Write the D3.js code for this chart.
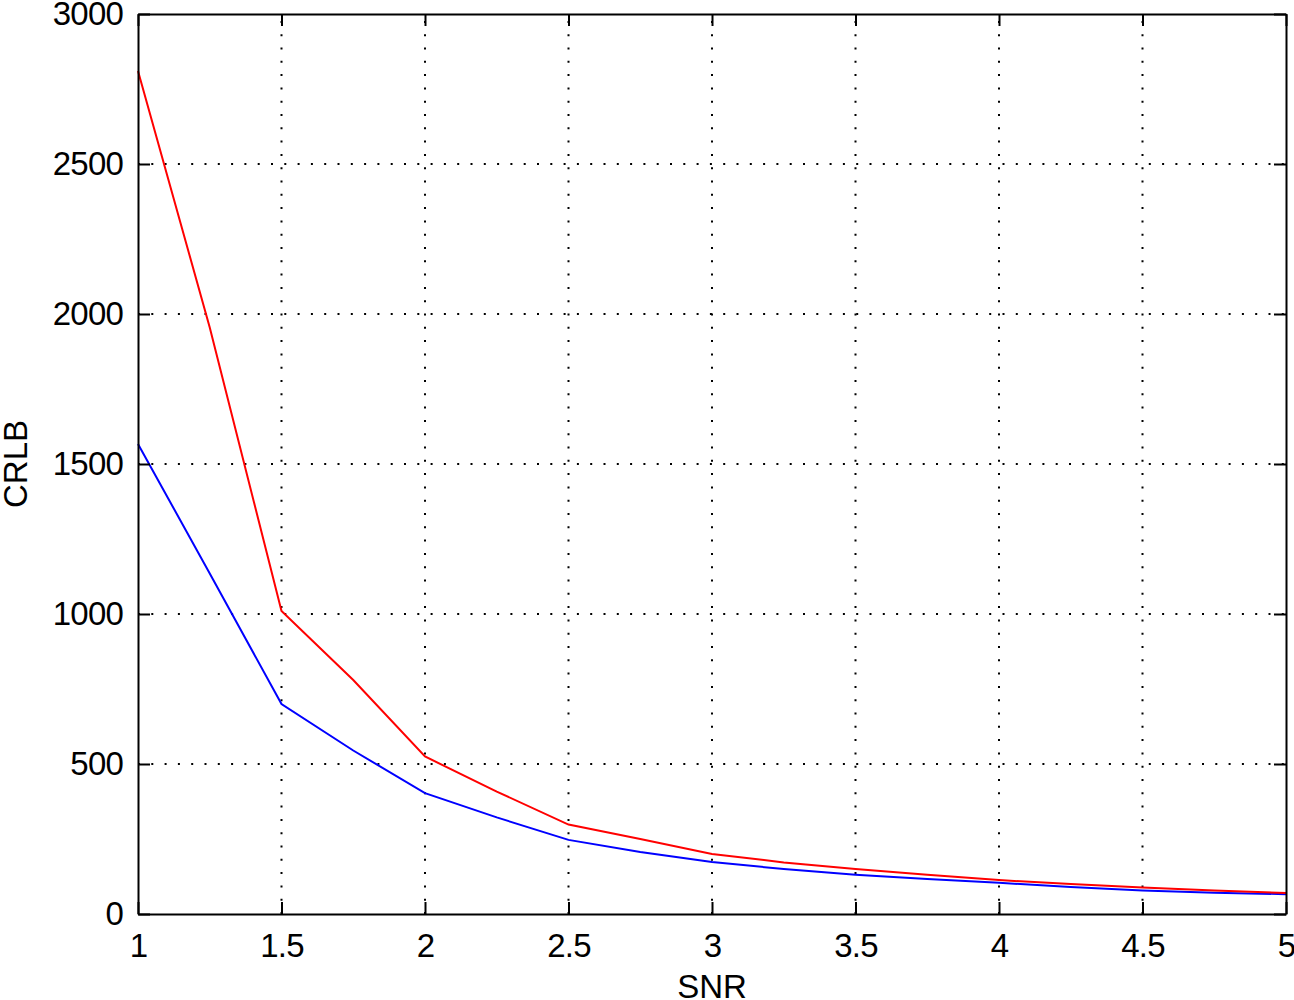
<!DOCTYPE html>
<html><head><meta charset="utf-8">
<script src="https://cdn.jsdelivr.net/npm/d3@7"></script>
<style>body{margin:0;background:#fff}svg{display:block}</style>
</head><body><svg id="c" width="1294" height="1000"></svg>
<script>
const snr = [1,1.25,1.5,1.75,2,2.25,2.5,2.75,3,3.25,3.5,3.75,4,4.25,4.5,4.75,5];
const crlbRed  = [2810,1955,1010,780,525,408,298,250,200,172,150,131,113,100,88,78,70];
const crlbBlue = [1567,1135,700,545,403,322,247,207,173,150,131,117,104,90,78,71,66];
const xTicks = [1,1.5,2,2.5,3,3.5,4,4.5,5];
const xTickLabels = ["1","1.5","2","2.5","3","3.5","4","4.5","5"];
const yTicks = [0,500,1000,1500,2000,2500,3000];
const yTickLabels = ["0","500","1000","1500","2000","2500","3000"];

const L=138,R=1286,T=14,B=914;
const svg=d3.select("#c");
const x=d3.scaleLinear().domain([1,5]).range([L,R]);
const y=d3.scaleLinear().domain([0,3000]).range([B,T]);
const font="'Liberation Sans', Arial, sans-serif";

// grid
const g=svg.append("g");
g.selectAll("line.vx").data(xTicks.slice(1,-1)).enter().append("line")
 .attr("x1",d=>x(d)).attr("x2",d=>x(d)).attr("y1",B).attr("y2",T)
 .attr("stroke","#000").attr("stroke-width",2).attr("stroke-dasharray","2,11.3");
g.selectAll("line.hy").data(yTicks.slice(1,-1)).enter().append("line")
 .attr("x1",L).attr("x2",R).attr("y1",d=>y(d)).attr("y2",d=>y(d))
 .attr("stroke","#000").attr("stroke-width",2).attr("stroke-dasharray","2,11.3");

// lines
const line=d3.line().x((d,i)=>x(snr[i])).y(d=>y(d));
svg.append("path").datum(crlbBlue).attr("d",line).attr("fill","none").attr("stroke","#0000ff").attr("stroke-width",2);
svg.append("path").datum(crlbRed).attr("d",line).attr("fill","none").attr("stroke","#ff0000").attr("stroke-width",2);

// axes (inward ticks, box)
const tk=12;
const xb=d3.axisBottom(x).tickValues(xTicks).tickFormat((d,i)=>xTickLabels[i]).tickSizeInner(-tk).tickSizeOuter(0).tickPadding(20);
const xt=d3.axisTop(x).tickValues(xTicks).tickFormat("").tickSizeInner(-tk).tickSizeOuter(0);
const yl=d3.axisLeft(y).tickValues(yTicks).tickFormat((d,i)=>yTickLabels[i]).tickSizeInner(-tk).tickSizeOuter(0).tickPadding(15);
const yr=d3.axisRight(y).tickValues(yTicks).tickFormat("").tickSizeInner(-tk).tickSizeOuter(0);
function style(sel){sel.selectAll("path,line").attr("stroke","#000").attr("stroke-width",2);
 sel.selectAll("text").attr("font-family",font).attr("font-size",33).attr("letter-spacing",-0.8).attr("fill","#000");}
svg.append("g").attr("transform",`translate(0,${B})`).call(xb).call(style);
svg.append("g").attr("transform",`translate(0,${T})`).call(xt).call(style);
svg.append("g").attr("transform",`translate(${L},0)`).call(yl).call(style);
svg.append("g").attr("transform",`translate(${R},0)`).call(yr).call(style);

svg.append("text").attr("x",(L+R)/2).attr("y",998).attr("text-anchor","middle")
 .attr("font-family",font).attr("font-size",33).text("SNR");
svg.append("text").attr("transform",`translate(27,${(T+B)/2}) rotate(-90)`).attr("text-anchor","middle")
 .attr("font-family",font).attr("font-size",33).text("CRLB");
</script></body></html>
